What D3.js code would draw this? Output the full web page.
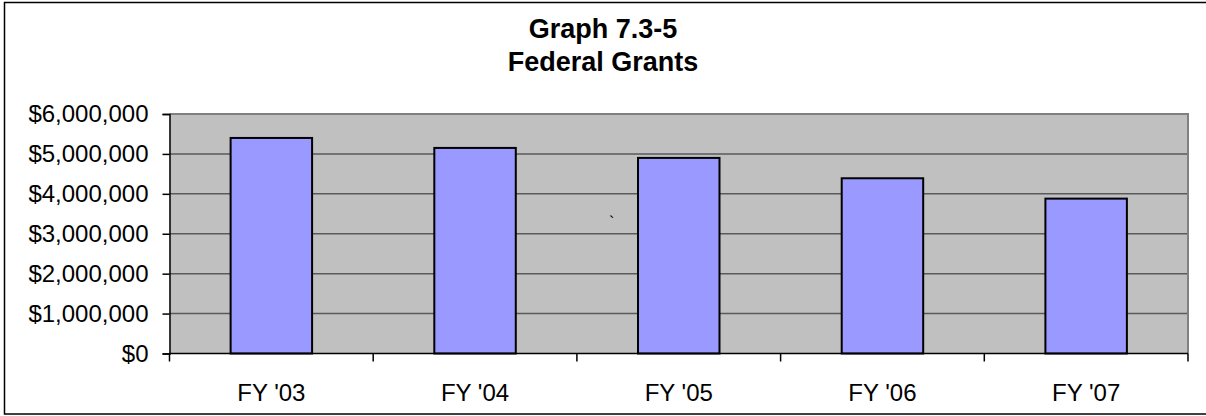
<!DOCTYPE html>
<html>
<head>
<meta charset="utf-8">
<script src="https://cdn.jsdelivr.net/npm/d3@7"></script>
<style>
  body { margin: 0; background: #fff; }
  text { font-family: "Liberation Sans", Arial, sans-serif; }
</style>
</head>
<body>
<svg id="chart"></svg>
<script>
const years = ["FY '03", "FY '04", "FY '05", "FY '06", "FY '07"];
const grants = [5400000, 5150000, 4900000, 4390000, 3880000];
const yTicks = [0, 1000000, 2000000, 3000000, 4000000, 5000000, 6000000];
const titleLines = ["Graph 7.3-5", "Federal Grants"];

const W = 1206, H = 416;
const margin = { top: 114, right: 18, bottom: 62, left: 169.5 };
const width = W - margin.left - margin.right;
const height = H - margin.top - margin.bottom - 0.5;

const svg = d3.select("#chart")
    .attr("width", W)
    .attr("height", H);

// outer chart frame
svg.append("rect")
    .attr("x", 4.5).attr("y", 2.5)
    .attr("width", W + 10).attr("height", 411.5)
    .attr("fill", "#fff")
    .attr("stroke", "#000")
    .attr("stroke-width", 1.5);

svg.selectAll(".title")
    .data(titleLines)
    .join("text")
    .attr("class", "title")
    .attr("x", 603)
    .attr("y", (d, i) => 38 + i * 33)
    .attr("text-anchor", "middle")
    .attr("font-size", 27)
    .attr("font-weight", "bold")
    .text(d => d);

const g = svg.append("g")
    .attr("transform", `translate(${margin.left},${margin.top})`);

const x = d3.scaleBand().domain(years).range([0, width]).padding(0);
const y = d3.scaleLinear().domain([0, 6000000]).range([height, 0]);

// plot area
g.append("rect")
    .attr("width", width).attr("height", height)
    .attr("fill", "#c0c0c0");

// gridlines
g.selectAll(".grid")
    .data(yTicks.filter(t => t > 0 && t < 6000000))
    .join("line")
    .attr("class", "grid")
    .attr("x1", 0).attr("x2", width)
    .attr("y1", d => y(d)).attr("y2", d => y(d))
    .attr("stroke", "#5a5a5a")
    .attr("stroke-width", 1.5);

// top and right border of the plot area
g.append("path")
    .attr("d", `M0,${y(6000000)}H${width}V${height}`)
    .attr("fill", "none")
    .attr("stroke", "#808080")
    .attr("stroke-width", 2);

// bars
const barW = x.bandwidth() * 0.4;
g.selectAll(".bar")
    .data(grants)
    .join("rect")
    .attr("class", "bar")
    .attr("x", (d, i) => x(years[i]) + (x.bandwidth() - barW) / 2)
    .attr("y", d => y(d))
    .attr("width", barW)
    .attr("height", d => height - y(d))
    .attr("fill", "#9999ff")
    .attr("stroke", "#000")
    .attr("stroke-width", 2);

// y axis
const yAxis = g.append("g")
    .call(d3.axisLeft(y)
        .tickValues(yTicks)
        .tickSize(7)
        .tickPadding(14)
        .tickFormat(d => "$" + d3.format(",")(d)));
yAxis.select(".domain").attr("stroke", "#000").attr("stroke-width", 1.5);
yAxis.selectAll("line").attr("stroke-width", 1.5);
yAxis.selectAll("text")
    .attr("font-size", 24)
    .attr("font-family", "'Liberation Sans', Arial, sans-serif")
    .attr("fill", "#000");

// x axis, ticks at band edges
const xAxis = g.append("g")
    .attr("transform", `translate(0,${height})`);
xAxis.append("line")
    .attr("x1", 0).attr("x2", width)
    .attr("stroke", "#000").attr("stroke-width", 1.5);
xAxis.selectAll(".xtick")
    .data(d3.range(years.length + 1))
    .join("line")
    .attr("class", "xtick")
    .attr("x1", i => i * x.step()).attr("x2", i => i * x.step())
    .attr("y1", 0).attr("y2", 8)
    .attr("stroke", "#000").attr("stroke-width", 1.5);
xAxis.selectAll(".xlabel")
    .data(years)
    .join("text")
    .attr("class", "xlabel")
    .attr("x", d => x(d) + x.bandwidth() / 2)
    .attr("y", 47)
    .attr("text-anchor", "middle")
    .attr("font-size", 24)
    .text(d => d);

// stray mark seen in the original
svg.append("text")
    .attr("x", 609).attr("y", 228)
    .attr("font-size", 16)
    .text("`");
</script>
</body>
</html>
